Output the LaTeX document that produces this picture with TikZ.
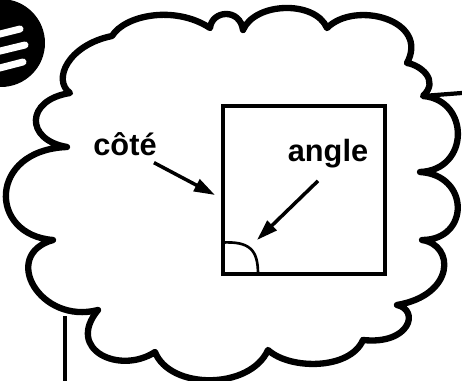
\documentclass[tikz,border=0pt]{standalone}
\usepackage{fontspec}
\setmainfont{Liberation Sans}
\usepackage{tikz}
\usetikzlibrary{arrows.meta, positioning, calc}

\begin{document}
\begin{tikzpicture}[x=0.02cm, y=-0.02cm,
    cloudline/.style={line width=3.6pt, line join=round, line cap=round},
    arr/.style={line width=2pt, -{Triangle[length=0.42cm, width=0.26cm]}},
    lbl/.style={font=\fontsize{17.5}{20}\selectfont\bfseries, inner sep=0pt, anchor=base}]
          \useasboundingbox (0,0) rectangle (462,381);
          \clip (0,0) rectangle (462,381);

          % striped disc, top left
          \fill (1,43) circle[radius=0.88cm];
          \foreach \ya/\yb/\xb in {36/29/20, 53/45/25, 70/62/23}
            \draw[white, line width=0.14cm, line cap=round] (-8,\ya) -- (\xb,\yb);

          % the cloud
          \draw[cloudline] (112,36) .. controls (125,15) and (175,5) .. (210,28)
            .. controls (212,10) and (240,8) .. (243,30)
            .. controls (255,2) and (315,0) .. (327,28)
            .. controls (355,0) and (430,20) .. (407,63)
            .. controls (420,65) and (440,80) .. (423,96)
            .. controls (470,100) and (470,170) .. (420,172)
            .. controls (470,175) and (470,240) .. (422,240)
            .. controls (455,245) and (455,295) .. (397,305)
            .. controls (420,310) and (410,345) .. (363,340)
            .. controls (350,370) and (290,370) .. (268,350)
            .. controls (250,390) and (170,390) .. (155,352)
            .. controls (120,375) and (65,350) .. (98,310)
            .. controls (40,325) and (0,255) .. (53,240)
            .. controls (-12,235) and (-12,150) .. (67,147)
            .. controls (25,140) and (25,100) .. (70,93)
            .. controls (52,80) and (68,45) .. (112,36);
          \draw[line width=2.4pt] (423,96) -- (462,93);
          \draw[line width=2.4pt] (65,316) -- (65,381);

          % square with its angle
          \node[draw, line width=1.8pt, minimum width=3.24cm, minimum height=3.36cm] (sq) at (304,190) {};
          \draw[line width=1.5pt] (sq.south west) ++(0,-33) .. controls (250,241) and (258,250) .. (258,274);

          \node[lbl] (cote) at (125,156) {côté};
          \node[lbl] (angle) at (328,162) {angle};
          \coordinate (coteTip) at (215,195);
          \coordinate (angleTip) at (257,240);

          \draw[arr] ($(cote.south east)+(-3,6)$) -- (coteTip);
          \draw[arr] ($(angle.south)+(-10,12)$) -- (angleTip);
        \end{tikzpicture}
\end{document}
